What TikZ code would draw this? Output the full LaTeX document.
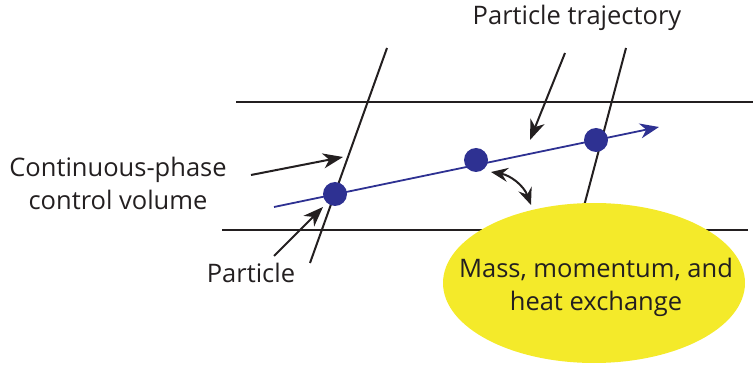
\documentclass[tikz,border=0pt]{standalone}
\usepackage{fontspec}
\setmainfont{Open Sans}
\usetikzlibrary{arrows.meta,shapes.geometric}
\definecolor{pblue}{HTML}{2E3192}
\definecolor{pyellow}{HTML}{F4EA2A}
\definecolor{txt}{HTML}{231F20}
\tikzset{
  lbl/.style={text=txt, font=\fontsize{25.5}{33}\selectfont, align=center, inner sep=0pt},
  wall/.style={line width=2pt, draw=txt},
  ptr/.style={line width=2pt, draw=txt, -{Stealth[length=20pt,width=15pt,inset=6pt]}},
  dot/.style={circle, fill=pblue, minimum width=24pt, minimum height=23pt, inner sep=0pt},
  blob/.style={ellipse, draw=none, fill=pyellow, inner sep=0pt},
}
\begin{document}
\begin{tikzpicture}[x=1pt,y=-1pt]
\useasboundingbox (0,0) rectangle (753,366);
% walls
\coordinate (t1) at (236,102); \coordinate (t2) at (753,102);
\coordinate (b1) at (222,230); \coordinate (b2) at (748,230);
\draw[wall] (t1) -- (t2);
\draw[wall] (b1) -- (b2);
% slanted lines
\coordinate (l1) at (387,48); \coordinate (l2) at (310,263);
\coordinate (r1) at (626,48); \coordinate (r2) at (575,240);
\draw[wall] (l1) -- (l2);
\draw[wall] (r1) -- (r2);
% trajectory
\coordinate (s) at (274,207); \coordinate (e) at (659,127);
\draw[pblue, line width=1.8pt, -{Stealth[length=19pt,width=15pt,inset=6pt]}] (s) -- (e);
\node[dot] (p1) at (335,194) {};
\node[dot] (p2) at (476,160) {};
\node[dot] (p3) at (596,140) {};
% ellipse
\node[blob, minimum width=302pt, minimum height=160pt] (ex) at (594,283) {};
\node[lbl] (extxt) at (596,287) {Mass, momentum, and\\heat exchange};
% labels
\node[lbl] (cp) at (118,183) {Continuous-phase\\control volume};
\node[lbl] (pt) at (251,273) {Particle};
\node[lbl] (tr) at (577,18) {Particle trajectory};
% pointer arrows
\coordinate (a1s) at (251,175); \coordinate (a1e) at (343,157);
\draw[ptr] (a1s) -- (a1e);
\coordinate (a2s) at (274,256); \coordinate (a2e) at (323,207);
\draw[ptr] (a2s) -- (a2e);
\coordinate (a3s) at (565,53); \coordinate (a3e) at (530,140);
\draw[ptr] (a3s) -- (a3e);
\coordinate (d1) at (491,172); \coordinate (d2) at (531,205);
\draw[line width=2pt, draw=txt, {Stealth[length=17pt,width=14pt,inset=6pt]}-{Stealth[length=17pt,width=14pt,inset=6pt]}] (d1) to[bend left=30] (d2);
\end{tikzpicture}
\end{document}
